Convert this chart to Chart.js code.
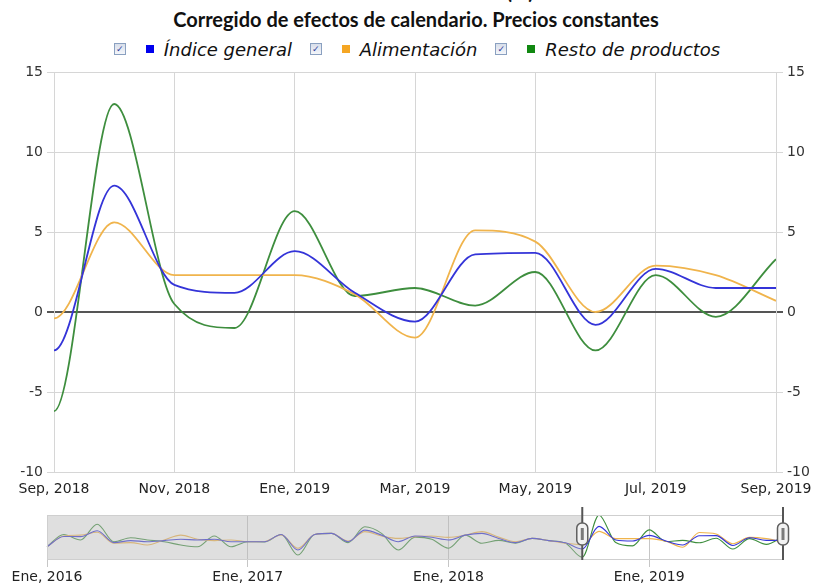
<!DOCTYPE html>
<html><head><meta charset="utf-8">
<script src="https://cdn.jsdelivr.net/npm/chart.js@4"></script>
<style>
html,body{margin:0;padding:0;background:#fff;width:814px;height:588px;overflow:hidden;}
#wrap{position:relative;width:814px;height:588px;overflow:hidden;}
#title{position:absolute;left:0;width:832px;top:-19px;line-height:21px;text-align:center;font-family:Lato;font-weight:bold;font-size:20px;color:#111;white-space:nowrap;}
#subtitle{position:absolute;left:0;width:832px;top:9px;line-height:20px;text-align:center;font-family:Lato;font-weight:bold;font-size:20px;color:#111;white-space:nowrap;}
#legend{position:absolute;top:40px;left:0;width:834px;line-height:20px;text-align:center;font-family:"DejaVu Sans";font-style:italic;font-size:18px;color:#111;white-space:nowrap;}
.item{display:inline-block;margin:0 6px;}
.cb{display:inline-block;width:10px;height:10px;border:1px solid #8aa0c0;background:linear-gradient(#d8deea,#f4f6fa);vertical-align:middle;position:relative;top:-2px;margin-right:20px;font-style:normal;font-size:9px;line-height:10px;text-align:center;color:#2a3a9a;font-family:"DejaVu Sans";}
.sq{display:inline-block;width:8px;height:8px;vertical-align:middle;position:relative;top:-2px;margin-right:10px;}
#main{position:absolute;left:0;top:0;}
#nav{position:absolute;left:0;top:500px;}
</style></head>
<body><div id="wrap">
<div id="title">Tasa de variación anual (%)</div>
<div id="subtitle">Corregido de efectos de calendario. Precios constantes</div>
<div id="legend">
<span class="item"><span class="cb">✓</span><span class="sq" style="background:#0000ee"></span>Índice general</span>
<span class="item"><span class="cb">✓</span><span class="sq" style="background:#f5a623"></span>Alimentación</span>
<span class="item"><span class="cb">✓</span><span class="sq" style="background:#118811"></span>Resto de productos</span>
</div>
<canvas id="main" width="814" height="500"></canvas>
<canvas id="nav" width="814" height="88"></canvas>
</div>
<script>
const monthNames = ['Ene','Feb','Mar','Abr','May','Jun','Jul','Ago','Sep','Oct','Nov','Dic'];
const years = [2016, 2017, 2018, 2019];
const labels = [];
years.forEach(y => monthNames.forEach((m, i) => { if (y < 2019 || i <= 8) labels.push(m + ', ' + y); }));

// Ene 2016 .. Sep 2019 (monthly)
const general = [
 -1.4, 3.3, 3.2, 5.9, 0.5, 1.4, 0.9, 1.4, 2.0, 1.7, 2.0, 0.9,
  0.9, 0.9, 4.2, -2.9, 4.2, 4.7, 0.9, 6.2, 3.9, 0.9, 3.5, 2.9,
  1.7, 3.9, 4.7, 2.4, 0.5, 2.4, 1.4, 0.4, -2.4, 7.9, 1.7, 1.2,
  3.8, 1.2, -0.6, 3.6, 3.7, -0.8, 2.7, 1.5, 1.5
];
const alimentacion = [
 -1.4, 3.5, 3.9, 5.2, 0.2, 0.5, -0.6, 1.7, 3.9, 2.0, 1.4, 1.7,
  0.9, 1.0, 4.0, -2.1, 4.2, 4.7, 1.2, 5.5, 3.5, 2.4, 3.2, 3.5,
  2.9, 3.9, 5.5, 3.0, 0.9, 2.4, 1.4, 0.2, -0.4, 5.6, 2.3, 2.3,
  2.3, 1.1, -1.6, 5.1, 4.4, 0.0, 2.9, 2.3, 0.7
];
const resto = [
 -1.4, 4.2, 1.7, 8.9, 0.9, 2.7, 1.7, 0.9, -0.6, -1.4, 3.5, -1.4,
  0.9, 0.8, 4.2, -5.2, 4.2, 4.7, 0.5, 7.7, 4.7, -2.9, 3.0, 2.0,
 -2.1, 3.9, 0.2, 1.5, 0.2, 2.4, 1.4, 0.2, -6.2, 13.0, 0.5, -1.0,
  6.3, 1.0, 1.5, 0.4, 2.5, -2.4, 2.3, -0.3, 3.3
];
const yTicks = [-10, -5, 0, 5, 10, 15];
const selStart = 'Sep, 2018', selEnd = 'Sep, 2019';

const COLORS = ['#3434d8', '#f0b44c', '#3e8e3e'];
const series = [['Índice general', general], ['Alimentación', alimentacion], ['Resto de productos', resto]];
function makeSets(w) {
  return series.map((s, i) => ({
    label: s[0], data: s[1], borderColor: COLORS[i], borderWidth: w,
    pointRadius: 0, cubicInterpolationMode: 'monotone', fill: false
  }));
}
const tickFont = {family: 'DejaVu Sans', size: 14};
const yAxis = (pos, w) => ({
  position: pos, min: yTicks[0], max: yTicks[yTicks.length - 1],
  afterBuildTicks: s => { s.ticks = yTicks.map(v => ({value: v})); },
  ticks: {font: tickFont, color: '#333', padding: 4},
  grid: {
    drawOnChartArea: pos === 'left',
    color: c => (c.tick && c.tick.value === 0) ? '#555' : '#d6d6d6',
    lineWidth: c => (c.tick && c.tick.value === 0) ? 2 : 1,
    tickLength: 7
  },
  border: {color: '#d6d6d6'},
  afterFit: s => { s.width = w; }
});

new Chart(document.getElementById('main'), {
  type: 'line',
  data: {labels, datasets: makeSets(1.8)},
  options: {
    responsive: false, animation: false,
    layout: {padding: {top: 72, left: 0, right: 0, bottom: 0}},
    plugins: {legend: {display: false}, tooltip: {enabled: false}, title: {display: false}},
    scales: {
      x: {
        type: 'category', min: selStart, max: selEnd, offset: false,
        grid: {color: c => (c.tick && c.tick.value % 2 === 0) ? '#d6d6d6' : 'rgba(0,0,0,0)', drawTicks: false},
        border: {display: false},
        ticks: {autoSkip: false, maxRotation: 0, padding: 9, font: tickFont, color: '#222',
                callback: v => v % 2 === 0 ? labels[v] : ''},
        afterFit: s => { s.height = 28; s.paddingLeft = 0; s.paddingRight = 0; }
      },
      y: yAxis('left', 54),
      y2: yAxis('right', 38)
    }
  }
});

const navPlugin = {
  id: 'navDeco',
  afterDatasetsDraw(chart) {
    const {ctx, chartArea: a, scales: {x}} = chart;
    const xs = x.getPixelForValue(labels.indexOf(selStart));
    const xe = x.getPixelForValue(labels.indexOf(selEnd));
    ctx.save();
    ctx.fillStyle = 'rgba(185,185,185,0.45)';
    ctx.fillRect(a.left, a.top, xs - a.left, a.bottom - a.top);
    ctx.strokeStyle = '#cfcfcf'; ctx.lineWidth = 1;
    ctx.strokeRect(a.left + 0.5, a.top + 0.5, a.right - a.left, a.bottom - a.top);
    [xs, xe].forEach(px => {
      ctx.strokeStyle = '#555'; ctx.lineWidth = 2;
      ctx.beginPath(); ctx.moveTo(px, a.top - 8); ctx.lineTo(px, a.bottom + 1); ctx.stroke();
      const hw = 11, hh = 22, cy = a.top + 19;
      ctx.beginPath();
      ctx.roundRect(px - hw / 2, cy - hh / 2, hw, hh, 5);
      ctx.fillStyle = '#f2f2f2'; ctx.fill();
      ctx.strokeStyle = '#606060'; ctx.lineWidth = 1.5; ctx.stroke();
      ctx.fillStyle = '#7a7a7a';
      ctx.fillRect(px - 1.5, cy - 6, 3, 12);
    });
    ctx.restore();
  }
};

new Chart(document.getElementById('nav'), {
  type: 'line',
  data: {labels, datasets: makeSets(1.1)},
  plugins: [navPlugin],
  options: {
    responsive: false, animation: false,
    layout: {padding: {top: 15, left: 47, right: 31, bottom: 0}},
    plugins: {legend: {display: false}, tooltip: {enabled: false}},
    scales: {
      x: {
        type: 'category', offset: false,
        grid: {color: c => (c.tick && c.tick.value % 12 === 0) ? '#c6c6c6' : 'rgba(0,0,0,0)', tickLength: 8},
        border: {display: false},
        ticks: {autoSkip: false, maxRotation: 0, padding: 2, font: tickFont, color: '#222',
                callback: v => v % 12 === 0 ? labels[v] : ''},
        afterFit: s => { s.height = 29; s.paddingLeft = 0; s.paddingRight = 0; }
      },
      y: {display: false, min: -7.0, max: 13.1}
    }
  }
});
</script>
</body></html>
